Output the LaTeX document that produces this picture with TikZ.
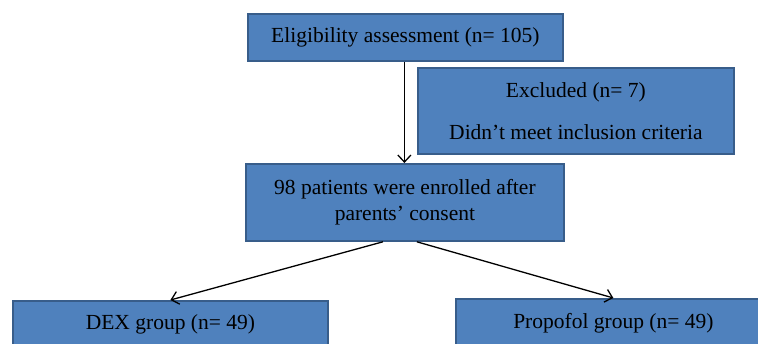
\documentclass[tikz,border=0pt]{standalone}
\usepackage{fontspec}
\setmainfont{Liberation Serif}
\usetikzlibrary{arrows.meta}
\definecolor{boxfill}{HTML}{4F81BD}
\definecolor{boxline}{HTML}{385D8A}
\tikzset{
  flowbox/.style={draw=boxline, fill=boxfill, line width=1.8pt, inner sep=0pt, anchor=north west,
    font=\fontsize{21.5}{26}\selectfont, align=center},
  conn/.style={line width=1.3pt, -{Straight Barb[length=7pt,width=13pt,line width=1.3pt]}}
}
\begin{document}
\begin{tikzpicture}[x=1pt,y=-1pt]
\useasboundingbox (0,0) rectangle (758,343);
\clip (0,0) rectangle (758,343);
\node[flowbox, minimum width=315pt, minimum height=47pt] (elig) at (247,13) {Eligibility assessment (n= 105)};
\node[flowbox, minimum width=316pt, minimum height=86pt] (excl) at (417,67) {Excluded (n= 7)\\[16pt]Didn’t meet inclusion criteria};
\node[flowbox, minimum width=318pt, minimum height=77pt] (enrol) at (245,163) {98 patients were enrolled after\\parents’ consent};
\node[flowbox, minimum width=315pt, minimum height=46pt] (dex) at (12,300) {DEX group (n= 49)};
\node[flowbox, minimum width=315pt, minimum height=48pt] (prop) at (455,298) {Propofol group (n= 49)};
\draw[conn] ([xshift=-1pt]elig.south) -- ([xshift=-1pt]elig.south |- enrol.north);
\draw[conn] ([xshift=-22pt]enrol.south) -- (dex.north);
\draw[conn] ([xshift=12pt]enrol.south) -- (prop.north);
\end{tikzpicture}
\end{document}
